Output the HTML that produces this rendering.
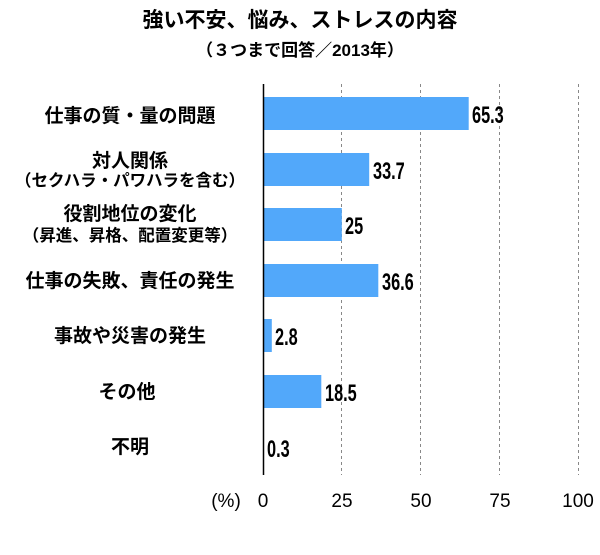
<!DOCTYPE html>
<html><head><meta charset="utf-8"><style>
body{margin:0;background:#fff;}
svg text{font-family:"Liberation Sans","Noto Sans CJK JP",sans-serif;}
.l{font-size:19px;font-weight:bold;text-anchor:middle;fill:#000}
.s{font-size:16.5px;font-weight:bold;text-anchor:middle;fill:#000}
.v{font-size:24px;font-weight:bold;fill:#000}
.t{font-size:19px;text-anchor:middle;fill:#000}
</style></head><body>
<svg width="600" height="550" xmlns="http://www.w3.org/2000/svg">
<text x="300" y="27" style="font-size:21px;font-weight:bold" text-anchor="middle">強い不安、悩み、ストレスの内容</text>
<text x="300" y="56" style="font-size:17px;font-weight:bold" text-anchor="middle">（３つまで回答／2013年）</text>
<g stroke="#888" stroke-width="1" stroke-dasharray="3,3">
<line x1="341.5" y1="84" x2="341.5" y2="475"/>
<line x1="420.5" y1="84" x2="420.5" y2="475"/>
<line x1="499.5" y1="84" x2="499.5" y2="475"/>
<line x1="578.5" y1="84" x2="578.5" y2="475"/>
</g>
<g fill="#52a8fa">
<rect x="263" y="97" width="205.7" height="33"/>
<rect x="263" y="153" width="106.2" height="33"/>
<rect x="263" y="208" width="78.8" height="33"/>
<rect x="263" y="264" width="115.3" height="33"/>
<rect x="263" y="319" width="8.8" height="33"/>
<rect x="263" y="375" width="58.3" height="33"/>
<rect x="263" y="431" width="1" height="33"/>
</g>
<line x1="263.5" y1="84" x2="263.5" y2="475" stroke="#000" stroke-width="1.5"/>
<g class="v">
<text class="v" transform="translate(472,123) scale(0.68,1)">65.3</text>
<text class="v" transform="translate(373,179) scale(0.68,1)">33.7</text>
<text class="v" transform="translate(345,234) scale(0.68,1)">25</text>
<text class="v" transform="translate(382,290) scale(0.68,1)">36.6</text>
<text class="v" transform="translate(275,345) scale(0.68,1)">2.8</text>
<text class="v" transform="translate(325,401) scale(0.68,1)">18.5</text>
<text class="v" transform="translate(267,457) scale(0.68,1)">0.3</text>
</g>
<text class="l" x="130" y="122">仕事の質・量の問題</text>
<text class="l" x="130" y="167">対人関係</text>
<text class="s" x="130" y="186">（セクハラ・パワハラを含む）</text>
<text class="l" x="130" y="220">役割地位の変化</text>
<text class="s" x="130" y="241">（昇進、昇格、配置変更等）</text>
<text class="l" x="130" y="287">仕事の失敗、責任の発生</text>
<text class="l" x="130" y="342">事故や災害の発生</text>
<text class="l" x="127" y="398">その他</text>
<text class="l" x="130" y="453">不明</text>
<text class="t" x="263" y="507">0</text>
<text class="t" x="342" y="507">25</text>
<text class="t" x="421" y="507">50</text>
<text class="t" x="500" y="507">75</text>
<text class="t" x="578" y="507">100</text>
<text class="t" x="226" y="507">(%)</text>
</svg>
</body></html>
